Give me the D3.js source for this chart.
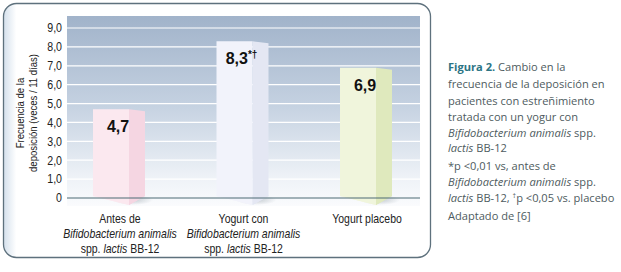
<!DOCTYPE html>
<html>
<head>
<meta charset="utf-8">
<script src="https://d3js.org/d3.v7.min.js"></script>
<style>
body { margin: 0; background: #fff; }
svg { display: block; }
</style>
</head>
<body>
<svg width="621" height="272"></svg>
<script>
// data
var categories = ["Antes de", "Yogurt con", "Yogurt placebo"];
var values = [4.7, 8.3, 6.9];
var valueLabels = ["4,7", "8,3", "6,9"];
var valueMarks = ["", "*†", ""];
var yTicks = [0, 1, 2, 3, 4, 5, 6, 7, 8, 9];
var frontColors = ["#fbe8ef", "#f2f3fb", "#f0f5dc"];
var sideColors = ["#f5d6e2", "#e4e7f3", "#dfe9bd"];

var svg = d3.select("svg");
var defs = svg.append("defs");
var narrow = "Liberation Sans, Arial, sans-serif";

var x = d3.scalePoint().domain(categories).range([119, 366]);
var y = d3.scaleLinear().domain([0, 9]).range([198, 28]);

// outer box
var edge = defs.append("linearGradient").attr("id", "edge").attr("x1", 0).attr("x2", 1);
edge.append("stop").attr("offset", 0).attr("stop-color", "#d4e0ec");
edge.append("stop").attr("offset", 0.03).attr("stop-color", "#ffffff");
svg.append("rect").attr("x", 3.5).attr("y", 3.5).attr("width", 427).attr("height", 254)
  .attr("rx", 13).attr("fill", "url(#edge)").attr("stroke", "#5e717d").attr("stroke-width", 1.3);

// plot panel
var bg = defs.append("linearGradient").attr("id", "bg").attr("x1", 0).attr("x2", 0).attr("y1", 0).attr("y2", 1);
bg.append("stop").attr("offset", 0).attr("stop-color", "#a1b3ca");
bg.append("stop").attr("offset", 0.45).attr("stop-color", "#c3d0e0");
bg.append("stop").attr("offset", 0.85).attr("stop-color", "#eef2f7");
bg.append("stop").attr("offset", 1).attr("stop-color", "#fafbfd");
svg.append("rect").attr("x", 67).attr("y", 16).attr("width", 353).attr("height", 190).attr("fill", "url(#bg)");

// grid
svg.append("g").selectAll("line").data(yTicks.filter(function(d) { return d > 0; })).enter()
  .append("line").attr("x1", 67).attr("x2", 420)
  .attr("y1", function(d) { return y(d); }).attr("y2", function(d) { return y(d); })
  .attr("stroke", "#fff").attr("stroke-width", 1.2);

// tick labels
svg.append("g").selectAll("text").data(yTicks).enter().append("text")
  .attr("transform", function(d) { return "translate(62," + y(d) + ") scale(0.85,1)"; })
  .attr("dy", "0.35em")
  .attr("text-anchor", "end").attr("font-family", narrow)
  .attr("font-size", 12.5).attr("fill", "#222")
  .text(function(d) { return d === 0 ? "0" : d3.format(".1f")(d).replace(".", ","); });

// y title
var yt = svg.append("text").attr("transform", "translate(24,113) rotate(-90) scale(0.83,1)")
  .attr("text-anchor", "middle").attr("font-family", narrow)
  .attr("font-size", 11.5).attr("fill", "#222");
yt.append("tspan").attr("x", 0).attr("y", 0).text("Frecuencia de la");
yt.append("tspan").attr("x", 0).attr("y", 13).text("deposición (veces / 11 días)");

// shadow under bars
var sh = defs.append("radialGradient").attr("id", "sh");
sh.append("stop").attr("offset", 0).attr("stop-color", "#8a96a0").attr("stop-opacity", 0.45);
sh.append("stop").attr("offset", 1).attr("stop-color", "#8a96a0").attr("stop-opacity", 0);

var bw = 52, fw = 36;
var bars = svg.append("g").selectAll("g").data(values).enter().append("g");
bars.append("ellipse")
  .attr("cx", function(d, i) { return x(categories[i]) + 14; }).attr("cy", y(0) + 2)
  .attr("rx", 20).attr("ry", 5).attr("fill", "url(#sh)");
bars.append("path")
  .attr("fill", function(d, i) { return sideColors[i]; })
  .attr("d", function(d, i) {
    var x0 = x(categories[i]) - bw / 2, xm = x0 + fw, x1 = x0 + bw, t = y(d), b = y(0);
    return "M" + xm + "," + t + "L" + x1 + "," + (t + 2) + "L" + x1 + "," + (b - 2) + "L" + xm + "," + (b + 7) + "Z";
  });
bars.append("path")
  .attr("fill", function(d, i) { return frontColors[i]; })
  .attr("d", function(d, i) {
    var x0 = x(categories[i]) - bw / 2, xm = x0 + fw, t = y(d), b = y(0);
    return "M" + x0 + "," + t + "L" + xm + "," + t + "L" + xm + "," + (b + 7) + "L" + x0 + "," + (b - 2) + "Z";
  });

// baseline
svg.append("line").attr("x1", 67).attr("x2", 420).attr("y1", y(0)).attr("y2", y(0))
  .attr("stroke", "#4d6b74").attr("stroke-width", 1.2);
// redraw bar bottoms over baseline
bars.append("path")
  .attr("fill", function(d, i) { return frontColors[i]; })
  .attr("d", function(d, i) {
    var x0 = x(categories[i]) - bw / 2, xm = x0 + fw, b = y(0);
    return "M" + x0 + "," + (b - 3) + "L" + xm + "," + (b - 3) + "L" + xm + "," + (b + 7) + "L" + x0 + "," + (b - 2) + "Z";
  });
bars.append("path")
  .attr("fill", function(d, i) { return sideColors[i]; })
  .attr("d", function(d, i) {
    var x0 = x(categories[i]) - bw / 2, xm = x0 + fw, x1 = x0 + bw, b = y(0);
    return "M" + xm + "," + (b - 3) + "L" + x1 + "," + (b - 3) + "L" + x1 + "," + (b - 2) + "L" + xm + "," + (b + 7) + "Z";
  });

// value labels
var vl = bars.append("text")
  .attr("x", function(d, i) { return x(categories[i]) - 1; })
  .attr("y", function(d) { return y(d) + 23; })
  .attr("text-anchor", "middle").attr("font-family", "Liberation Sans, Arial, sans-serif")
  .attr("font-weight", "bold").attr("font-size", 16).attr("fill", "#111");
vl.append("tspan").text(function(d, i) { return valueLabels[i]; });
vl.append("tspan").attr("dy", -6).attr("font-size", 10).text(function(d, i) { return valueMarks[i]; });

// category labels
var catLines = [
  [[["Antes de", false]], [["Bifidobacterium animalis", true]], [["spp. ", false], ["lactis", true], [" BB-12", false]]],
  [[["Yogurt con", false]], [["Bifidobacterium animalis", true]], [["spp. ", false], ["lactis", true], [" BB-12", false]]],
  [[["Yogurt placebo", false]]]
];
categories.forEach(function(c, i) {
  catLines[i].forEach(function(line, j) {
    var t = svg.append("text")
      .attr("transform", "translate(" + (x(c) + 1) + "," + (223 + j * 15) + ") scale(0.84,1)")
      .attr("text-anchor", "middle").attr("font-family", narrow).attr("font-size", 12.5).attr("fill", "#222");
    line.forEach(function(p) {
      t.append("tspan").attr("font-style", p[1] ? "italic" : "normal").text(p[0]);
    });
  });
});

// caption
var capFont = "'Open Sans', Lato, sans-serif";
var cap = [
  [71, [["Figura 2.", "b"], [" Cambio en la", ""]]],
  [88, [["frecuencia de la deposición en", ""]]],
  [105, [["pacientes con estreñimiento", ""]]],
  [121, [["tratada con un yogur con", ""]]],
  [137, [["Bifidobacterium animalis", "i"], [" spp.", ""]]],
  [152, [["lactis", "i"], [" BB-12", ""]]],
  [170, [["*p <0,01 vs, antes de", ""]]],
  [186, [["Bifidobacterium animalis", "i"], [" spp.", ""]]],
  [202, [["lactis", "i"], [" BB-12, ", ""], ["†", "s"], ["p <0,05 vs. placebo", ""]]],
  [220, [["Adaptado de [6]", ""]]]
];
cap.forEach(function(row) {
  var t = svg.append("text").attr("x", 448).attr("y", row[0]).attr("font-family", capFont)
    .attr("font-size", 11.1).attr("fill", "#4e5b60");
  row[1].forEach(function(p, k) {
    var s = t.append("tspan").text(p[0]);
    if (p[1] === "b") s.attr("font-weight", "bold").attr("fill", "#2c7484");
    if (p[1] === "i") s.attr("font-style", "italic");
    if (p[1] === "s") s.attr("font-size", 7).attr("dy", -4);
    if (k > 0 && row[1][k - 1][1] === "s") s.attr("dy", 4);
  });
});
</script>
</body>
</html>
